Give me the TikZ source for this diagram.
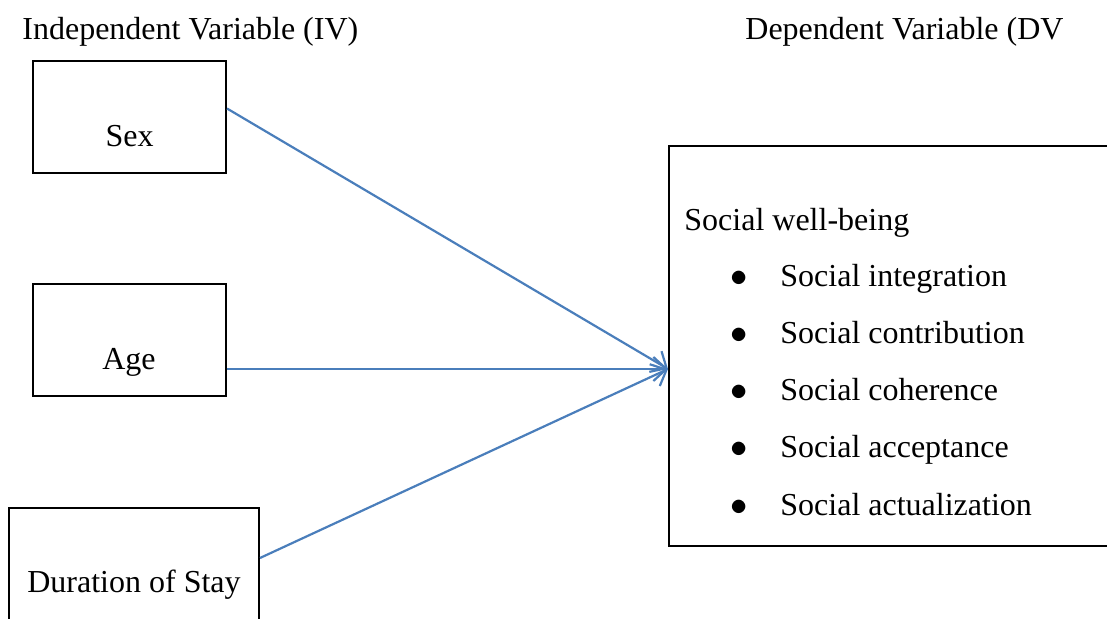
\documentclass[tikz,border=0pt]{standalone}
\usepackage{fontspec}
\setmainfont{Liberation Serif}
\usepackage{tikz}
\usetikzlibrary{positioning}
\usetikzlibrary{arrows.meta}
\usetikzlibrary{calc}

\begin{document}
\begin{tikzpicture}[x=0.5pt,y=-0.5pt,
  every node/.style={font=\fontsize{16pt}{19pt}\selectfont},
  ivbox/.style={rectangle,draw,line width=1pt,inner sep=0pt,text height=43pt,text depth=13pt,minimum width=96.5pt,anchor=base},
  item/.style={inner sep=0pt,anchor=base west},
  link/.style={draw=linkblue,line width=1.1pt,-{Straight Barb[length=6.5pt,width=12pt]}}]
\definecolor{linkblue}{RGB}{74,126,187};
\useasboundingbox (0,0) rectangle (1107,619);
% headings
\node [item] (ivt) at (22,40) {Independent Variable (IV)};
\node [item] (dvt) at (745,40) {Dependent Variable (DV};
% independent variables
\node [ivbox] (sex) at (129.5,147) {Sex};
\node [ivbox] (age) at (129,370) {Age};
\node [ivbox,minimum width=125pt,text height=42pt,text depth=25pt] (stay) at (134,592) {Duration of Stay};
% dependent variable
\node [rectangle,draw,line width=1pt,inner sep=0pt,anchor=north west,minimum width=240pt,minimum height=200pt] (dv) at (668,145) {};
\node [item] (swb) at (684,231) {Social well-being};
\foreach \txt [count=\i] in {Social integration,Social contribution,Social coherence,Social acceptance,Social actualization}
  \node [item] (s\i) at (730,230+57*\i) {\makebox[25pt][l]{$\bullet$}\txt};
% arrows
\coordinate (tip) at ($(dv.west)+(0,23)$);
\draw [link] ([yshift=4.25pt]sex.east) -- (tip);
\draw [link] (age.east |- tip) -- (tip);
\draw [link] ([yshift=8.5pt]stay.east) -- (tip);
\end{tikzpicture}
\end{document}
